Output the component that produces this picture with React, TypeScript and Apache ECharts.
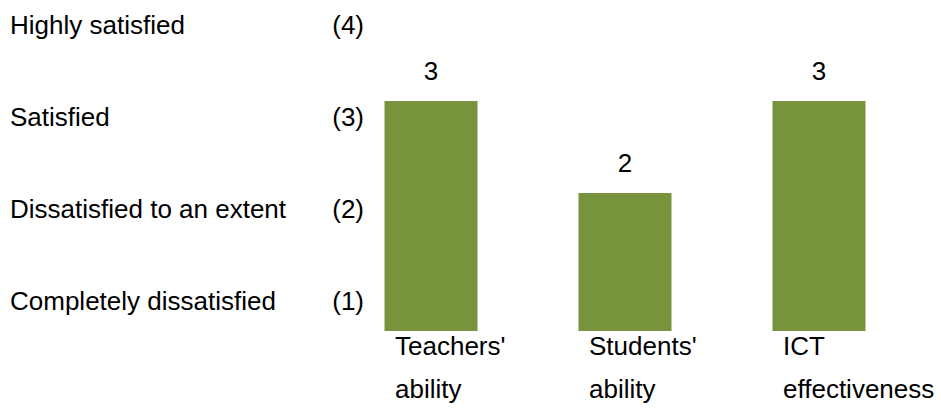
import React, { useEffect, useRef } from "react";
import * as echarts from "echarts";

const categories: string[] = ["Teachers'\nability", "Students'\nability", "ICT\neffectiveness"];
const values: number[] = [3, 2, 3];
const levelNames: string[] = ["Completely dissatisfied", "Dissatisfied to an extent", "Satisfied", "Highly satisfied"];
const levelValues: number[] = [1, 2, 3, 4];

export default function App() {
  const ref = useRef<HTMLDivElement>(null);
  useEffect(() => {
    document.body.style.margin = "0";
    if (!ref.current) return;
    const chart = echarts.init(ref.current, null, { renderer: "svg" });
    const font = "Liberation Sans, Arial, sans-serif";
    chart.setOption({
      animation: false,
      grid: { left: 334, right: 25, top: 9, bottom: 77 },
      xAxis: {
        type: "category",
        data: categories,
        axisLine: { show: false },
        axisTick: { show: false },
        axisLabel: {
          interval: 0,
          margin: -16,
          formatter: (v: string) => {
            const parts = v.split("\n");
            return `{a|${parts[0]}}\n{b|${parts[1]}}`;
          },
          rich: {
            a: { width: 72, align: "left", fontSize: 26, lineHeight: 62, color: "#000", fontFamily: font },
            b: { width: 72, align: "left", fontSize: 26, lineHeight: 24, color: "#000", fontFamily: font },
          },
        },
      },
      yAxis: {
        type: "value",
        min: 0.5,
        max: 4,
        interval: 0.5,
        splitLine: { show: false },
        axisLine: { show: false },
        axisTick: { show: false },
        axisLabel: {
          margin: -30,
          verticalAlign: "top",
          formatter: (v: number) => {
            const i = levelValues.indexOf(v);
            if (i < 0) return "";
            return `{a|${levelNames[i]}}{b|(${levelValues[i]})}`;
          },
          rich: {
            a: { width: 314, align: "left", fontSize: 26, lineHeight: 32, color: "#000", fontFamily: font },
            b: { width: 40, align: "right", fontSize: 26, lineHeight: 32, color: "#000", fontFamily: font },
          },
        },
      },
      series: [
        {
          type: "bar",
          data: values,
          barWidth: 93,
          itemStyle: { color: "#77933C" },
          label: {
            show: true,
            position: "top",
            distance: 17,
            fontSize: 26,
            color: "#000",
            fontFamily: font,
          },
        },
      ],
    });
    return () => chart.dispose();
  }, []);
  return <div ref={ref} style={{ width: 941, height: 408 }} />;
}
